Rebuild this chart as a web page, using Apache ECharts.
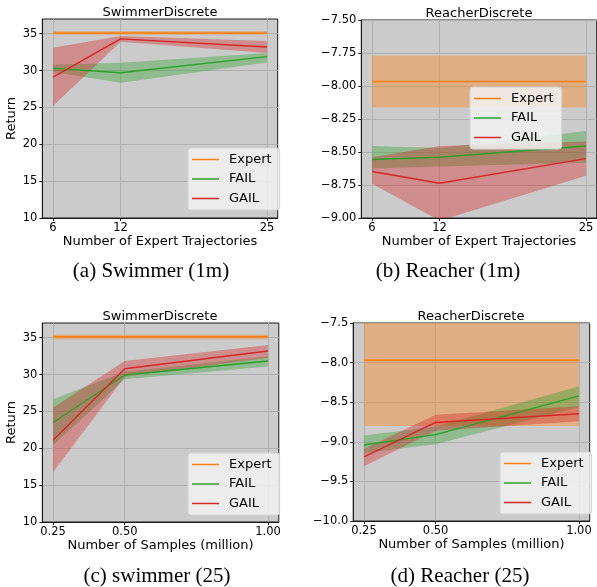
<!DOCTYPE html>
<html>
<head>
<meta charset="utf-8">
<script src="https://cdn.jsdelivr.net/npm/echarts@6/dist/echarts.min.js"></script>
<style>
  html, body { margin: 0; padding: 0; background: #fff; }
  #main { width: 597px; height: 587px; }
</style>
</head>
<body>
<div id="main"></div>
<script>
// x values
const trajX = [6, 12, 25]
const sampleX = [0.25, 0.5, 1.0]

// tick labels
const trajTicks = [6, 12, 25]
const sampleTicks = [0.25, 0.5, 1.0]
const swimTicks = [10, 15, 20, 25, 30, 35]
const reachTicksA = [-9, -8.75, -8.5, -8.25, -8, -7.75, -7.5]
const reachTicksB = [-10, -9.5, -9, -8.5, -8, -7.5]

// (a) swimmer, expert trajectories
const swimTrajExpert = [35.1, 35.1, 35.1]
const swimTrajExpertLo = [34.85, 34.85, 34.85]
const swimTrajExpertHi = [35.35, 35.35, 35.35]
const swimTrajFail = [30.3, 29.7, 31.9]
const swimTrajFailLo = [29.8, 28.35, 31.1]
const swimTrajFailHi = [30.8, 31.05, 32.4]
const swimTrajGail = [29.1, 34.3, 33.2]
const swimTrajGailLo = [25.2, 33.9, 32.4]
const swimTrajGailHi = [33.1, 34.7, 34.0]

// (b) reacher, expert trajectories
const reachTrajExpert = [-7.966, -7.966, -7.966]
const reachTrajExpertLo = [-8.163, -8.163, -8.163]
const reachTrajExpertHi = [-7.77, -7.77, -7.77]
const reachTrajFail = [-8.557, -8.54, -8.455]
const reachTrajFailLo = [-8.625, -8.61, -8.58]
const reachTrajFailHi = [-8.454, -8.47, -8.34]
const reachTrajGail = [-8.648, -8.737, -8.55]
const reachTrajGailLo = [-8.74, -9.02, -8.68]
const reachTrajGailHi = [-8.54, -8.454, -8.42]

// (c) swimmer, samples
const swimSampExpert = [35.13, 35.13, 35.13]
const swimSampExpertLo = [34.8, 34.8, 34.8]
const swimSampExpertHi = [35.45, 35.45, 35.45]
const swimSampFail = [23.5, 29.95, 31.85]
const swimSampFailLo = [20.4, 29.37, 31.1]
const swimSampFailHi = [26.67, 30.4, 32.5]
const swimSampGail = [21.1, 30.8, 33.2]
const swimSampGailLo = [16.76, 29.7, 32.3]
const swimSampGailHi = [25.5, 31.85, 34.0]

// (d) reacher, samples
const reachSampExpert = [-7.97, -7.97, -7.97]
const reachSampExpertLo = [-8.8, -8.8, -8.8]
const reachSampExpertHi = [-7.14, -7.14, -7.14]
const reachSampFail = [-9.04, -8.91, -8.42]
const reachSampFailLo = [-9.14, -9.03, -8.56]
const reachSampFailHi = [-8.92, -8.81, -8.30]
const reachSampGail = [-9.19, -8.756, -8.645]
const reachSampGailLo = [-9.31, -8.86, -8.74]
const reachSampGailHi = [-9.09, -8.66, -8.55]

const COLORS = { Expert: '#ff7f0e', FAIL: '#2ca02c', GAIL: '#d62728' }
const MINUS = '\u2212'

// 每个子图的布局和数据
const panels = [
  {
    grid: { left: 42.3, top: 19, width: 235.4, height: 199 },
    xMin: 5.05, xMax: 25.95, xTicks: trajTicks, xDigits: 0, x: trajX,
    yMin: 10, yMax: 37, yTicks: swimTicks, yDigits: 0,
    xName: 'Number of Expert Trajectories', yName: 'Return',
    title: 'SwimmerDiscrete', titleX: 160, titleY: 13,
    caption: '(a) Swimmer (1m)', capX: 151, capY: 271,
    legend: { left: 188, top: 148 },
    lines: {
      Expert: [swimTrajExpert, swimTrajExpertLo, swimTrajExpertHi],
      FAIL: [swimTrajFail, swimTrajFailLo, swimTrajFailHi],
      GAIL: [swimTrajGail, swimTrajGailLo, swimTrajGailHi]
    }
  },
  {
    grid: { left: 361.3, top: 20, width: 235.4, height: 198 },
    xMin: 5.05, xMax: 25.95, xTicks: trajTicks, xDigits: 0, x: trajX,
    yMin: -9, yMax: -7.5, yTicks: reachTicksA, yDigits: 2,
    xName: 'Number of Expert Trajectories', yName: '',
    title: 'ReacherDiscrete', titleX: 479, titleY: 13.5,
    caption: '(b) Reacher (1m)', capX: 448, capY: 271,
    legend: { left: 470, top: 87 },
    lines: {
      Expert: [reachTrajExpert, reachTrajExpertLo, reachTrajExpertHi],
      FAIL: [reachTrajFail, reachTrajFailLo, reachTrajFailHi],
      GAIL: [reachTrajGail, reachTrajGailLo, reachTrajGailHi]
    }
  },
  {
    grid: { left: 42.3, top: 323, width: 236.5, height: 199 },
    xMin: 0.2125, xMax: 1.0375, xTicks: sampleTicks, xDigits: 2, x: sampleX,
    yMin: 10, yMax: 37, yTicks: swimTicks, yDigits: 0,
    xName: 'Number of Samples (million)', yName: 'Return',
    title: 'SwimmerDiscrete', titleX: 160, titleY: 317,
    caption: '(c) swimmer (25)', capX: 157, capY: 576,
    legend: { left: 188, top: 453 },
    lines: {
      Expert: [swimSampExpert, swimSampExpertLo, swimSampExpertHi],
      FAIL: [swimSampFail, swimSampFailLo, swimSampFailHi],
      GAIL: [swimSampGail, swimSampGailLo, swimSampGailHi]
    }
  },
  {
    grid: { left: 353.2, top: 323, width: 236.5, height: 198 },
    xMin: 0.2125, xMax: 1.0375, xTicks: sampleTicks, xDigits: 2, x: sampleX,
    yMin: -10, yMax: -7.5, yTicks: reachTicksB, yDigits: 1,
    xName: 'Number of Samples (million)', yName: '',
    title: 'ReacherDiscrete', titleX: 471, titleY: 317,
    caption: '(d) Reacher (25)', capX: 460, capY: 576,
    legend: { left: 500, top: 452 },
    lines: {
      Expert: [reachSampExpert, reachSampExpertLo, reachSampExpertHi],
      FAIL: [reachSampFail, reachSampFailLo, reachSampFailHi],
      GAIL: [reachSampGail, reachSampGailLo, reachSampGailHi]
    }
  }
]

const fmt = (digits) => (v) => {
  const s = Math.abs(v).toFixed(digits)
  return v < 0 ? MINUS + s : s
}

// 置信区间: 用一个多边形画出 [lo, hi] 区域
const bandRenderer = (color) => (params, api) => {
  if (params.dataIndexInside !== 0) return null
  const n = params.dataInsideLength
  const upper = []
  const lower = []
  for (let k = 0; k < n; k++) {
    upper.push(api.coord([api.value(0, k), api.value(2, k)]))
    lower.push(api.coord([api.value(0, k), api.value(1, k)]))
  }
  const cs = params.coordSys
  return {
    type: 'polygon',
    shape: { points: upper.concat(lower.reverse()) },
    style: { fill: color, opacity: 0.38 },
    clipPath: { type: 'rect', shape: { x: cs.x, y: cs.y, width: cs.width, height: cs.height } },
    silent: true
  }
}

const grids = []
const xAxes = []
const yAxes = []
const legends = []
const bandSeries = []
const lineSeries = []
const graphics = []

panels.forEach((p, i) => {
  grids.push(Object.assign({
    show: true,
    backgroundColor: '#cbcbcb',
    borderColor: '#1a1a1a',
    borderWidth: 1
  }, p.grid))

  xAxes.push({
    type: 'value',
    gridIndex: i,
    min: p.xMin,
    max: p.xMax,
    name: p.xName,
    nameLocation: 'middle',
    nameGap: 12,
    nameTextStyle: { fontFamily: 'DejaVu Sans', fontSize: 13, color: '#000' },
    axisLine: { onZero: false, lineStyle: { color: '#1a1a1a', width: 1 } },
    axisTick: { show: true, length: 3, customValues: p.xTicks, lineStyle: { color: '#1a1a1a' } },
    axisLabel: {
      customValues: p.xTicks,
      margin: 4,
      fontFamily: 'DejaVu Sans',
      fontSize: 11.5,
      color: '#000',
      formatter: fmt(p.xDigits)
    },
    splitLine: { show: true, lineStyle: { color: '#b0b0b0', width: 1 } }
  })

  yAxes.push({
    type: 'value',
    gridIndex: i,
    min: p.yMin,
    max: p.yMax,
    name: p.yName,
    nameLocation: 'middle',
    nameGap: 24,
    nameTextStyle: { fontFamily: 'DejaVu Sans', fontSize: 13, color: '#000' },
    axisLine: { onZero: false, lineStyle: { color: '#1a1a1a', width: 1 } },
    axisTick: { show: true, length: 3, customValues: p.yTicks, lineStyle: { color: '#1a1a1a' } },
    axisLabel: {
      customValues: p.yTicks,
      margin: 5,
      fontFamily: 'DejaVu Sans',
      fontSize: 11.5,
      color: '#000',
      formatter: fmt(p.yDigits)
    },
    splitLine: { show: true, lineStyle: { color: '#b0b0b0', width: 1 } }
  })

  legends.push({
    data: ['Expert', 'FAIL', 'GAIL'],
    orient: 'vertical',
    left: p.legend.left,
    top: p.legend.top,
    icon: 'rect',
    itemWidth: 27,
    itemHeight: 1.5,
    itemGap: 4.5,
    padding: [4, 8, 4, 4],
    backgroundColor: 'rgba(242,242,242,0.85)',
    borderColor: '#d4d4d4',
    borderWidth: 1,
    borderRadius: 3,
    selectedMode: false,
    textStyle: {
      fontFamily: 'DejaVu Sans',
      fontSize: 13,
      lineHeight: 15,
      color: '#000',
      padding: [0, 0, 0, 5]
    }
  })

  Object.keys(p.lines).forEach((name) => {
    const [mean, lo, hi] = p.lines[name]
    bandSeries.push({
      type: 'custom',
      name: name + ' band',
      xAxisIndex: i,
      yAxisIndex: i,
      silent: true,
      renderItem: bandRenderer(COLORS[name]),
      encode: { x: 0, y: [1, 2] },
      data: p.x.map((x, k) => [x, lo[k], hi[k]])
    })
    lineSeries.push({
      type: 'line',
      name: name,
      xAxisIndex: i,
      yAxisIndex: i,
      symbol: 'none',
      color: COLORS[name],
      lineStyle: { color: COLORS[name], width: 1.4 },
      data: p.x.map((x, k) => [x, mean[k]])
    })
  })

  graphics.push({
    type: 'text',
    x: p.titleX,
    y: p.titleY,
    style: {
      text: p.title,
      fontFamily: 'DejaVu Sans',
      fontSize: 13,
      fill: '#000',
      align: 'center',
      verticalAlign: 'middle'
    }
  })
  graphics.push({
    type: 'text',
    x: p.capX,
    y: p.capY,
    style: {
      text: p.caption,
      fontFamily: 'Liberation Serif',
      fontSize: 21,
      fill: '#000',
      align: 'center',
      verticalAlign: 'middle'
    }
  })
})

const chart = echarts.init(document.getElementById('main'))
chart.setOption({
  animation: false,
  grid: grids,
  xAxis: xAxes,
  yAxis: yAxes,
  legend: legends,
  series: bandSeries.concat(lineSeries),
  graphic: graphics
})
</script>
</body>
</html>
